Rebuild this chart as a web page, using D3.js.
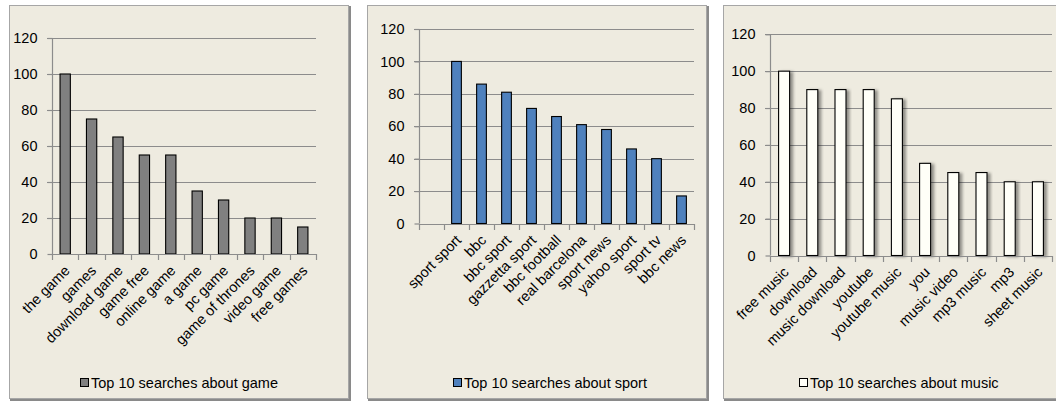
<!DOCTYPE html>
<html><head><meta charset="utf-8">
<script src="https://cdn.jsdelivr.net/npm/d3@7"></script>
<style>
body{margin:0;background:#fff;}
svg{display:block;font-family:"Liberation Sans",Arial,sans-serif;}
</style></head>
<body>
<svg id="c" width="1056" height="403"></svg>
<script>
const gameCategories = ["the game","games","download game","game free","online game","a game","pc game","game of thrones","video game","free games"];
const gameValues = [100,75,65,55,55,35,30,20,20,15];
const sportCategories = ["","sport sport","bbc","bbc sport","gazzetta sport","bbc football","real barcelona","sport news","yahoo sport","sport tv","bbc news"];
const sportValues = [null,100,86,81,71,66,61,58,46,40,17];
const musicCategories = ["free music","download","music download","youtube","youtube music","you","music video","mp3 music","mp3","sheet music"];
const musicValues = [100,90,90,90,85,50,45,45,40,40];
const yTicks = [0,20,40,60,80,100,120];
const legendLabels = ["Top 10 searches about game","Top 10 searches about sport","Top 10 searches about music"];

const FS = 14.5;
const svg = d3.select("#c");
const defs = svg.append("defs");
const f = defs.append("filter").attr("id","sh").attr("x","-50%").attr("y","-10%").attr("width","200%").attr("height","120%");
f.append("feDropShadow").attr("dx",3).attr("dy",1).attr("stdDeviation",1.8).attr("flood-color","#000").attr("flood-opacity",0.4);

const panels = [
  {cats:gameCategories, vals:gameValues, legend:legendLabels[0], box:[9,5,349,399], x0:52, x1:316, yb:254, yt:38, lx:80, fill:"#808080", shadow:false},
  {cats:sportCategories, vals:sportValues, legend:legendLabels[1], box:[367,5,707,399], x0:419, x1:694, yb:223.5, yt:29, lx:453, fill:"#4F81BD", shadow:false},
  {cats:musicCategories, vals:musicValues, legend:legendLabels[2], box:[723,5,1062,399], x0:770, x1:1052, yb:255.5, yt:34.3, lx:799, fill:"#FFFFF8", shadow:true}
];

panels.forEach(p => {
  const g = svg.append("g");
  const [bx0,by0,bx1,by1] = p.box;
  g.append("rect").attr("x",bx0+1).attr("y",by0+1).attr("width",bx1-bx0+1).attr("height",by1-by0+1).attr("fill","#8a8a8a");
  g.append("rect").attr("x",bx0+0.5).attr("y",by0+0.5).attr("width",bx1-bx0-1).attr("height",by1-by0-1)
    .attr("fill","#EEEBE0").attr("stroke","#A6A6A6").attr("stroke-width",1);

  const x = d3.scaleBand().domain(p.cats.map((c,i)=>i)).range([p.x0,p.x1]).padding(0);
  const y = d3.scaleLinear().domain([0,120]).range([p.yb,p.yt]);

  g.selectAll(".grid").data(yTicks.filter(t=>t>0)).enter().append("line")
    .attr("x1",p.x0-5).attr("x2",p.x1).attr("y1",d=>Math.round(y(d))+0.5).attr("y2",d=>Math.round(y(d))+0.5)
    .attr("stroke","#8C8C8C").attr("stroke-width",1.2);

  const ya = d3.axisLeft(y).tickValues(yTicks).tickSize(5).tickPadding(10);
  const yg = g.append("g").attr("transform",`translate(${p.x0+0.5},0)`).call(ya);
  yg.select(".domain").remove();
  yg.selectAll(".tick line").attr("stroke","#8C8C8C").attr("stroke-width",1.2);
  yg.selectAll(".tick text").attr("font-size",FS).attr("fill","#000").attr("font-family","inherit");
  g.append("line").attr("x1",p.x0+0.5).attr("x2",p.x0+0.5).attr("y1",p.yt).attr("y2",p.yb).attr("stroke","#8C8C8C").attr("stroke-width",1.2);

  const bw = x.bandwidth()*0.39;
  const bars = g.selectAll(".bar").data(p.vals.map((v,i)=>({v,i})).filter(d=>d.v!=null)).enter().append("rect")
    .attr("x",d=>x(d.i)+x.bandwidth()/2-bw/2).attr("width",bw)
    .attr("y",d=>y(d.v)).attr("height",d=>p.yb-y(d.v))
    .attr("fill",p.fill).attr("stroke","#000").attr("stroke-width",1.1);
  if (p.shadow) bars.attr("filter","url(#sh)");

  g.append("line").attr("x1",p.x0).attr("x2",p.x1).attr("y1",Math.round(p.yb)+0.5).attr("y2",Math.round(p.yb)+0.5)
    .attr("stroke","#8C8C8C").attr("stroke-width",1.2);
  const bounds = p.cats.map((c,i)=>x(i)).concat([p.x1]);
  g.selectAll(".xt").data(bounds).enter().append("line")
    .attr("x1",d=>Math.round(d)+0.5).attr("x2",d=>Math.round(d)+0.5)
    .attr("y1",Math.round(p.yb)).attr("y2",Math.round(p.yb)+6)
    .attr("stroke","#8C8C8C").attr("stroke-width",1.2);
  g.selectAll(".xl").data(p.cats.map((c,i)=>({c,i}))).enter().append("text")
    .attr("transform",d=>`translate(${x(d.i)+x.bandwidth()/2+2},${p.yb+14}) rotate(-45)`)
    .attr("text-anchor","end").attr("dy","0.35em").attr("font-size",FS).attr("fill","#000")
    .text(d=>d.c);

  const ly = 383;
  g.append("rect").attr("x",p.lx+0.5).attr("y",ly-4.5).attr("width",8).attr("height",8)
    .attr("fill",p.fill).attr("stroke","#000").attr("stroke-width",1);
  g.append("text").attr("x",p.lx+11).attr("y",ly).attr("dy","0.35em").attr("font-size",FS).attr("fill","#000").text(p.legend);
});
</script>
</body></html>
